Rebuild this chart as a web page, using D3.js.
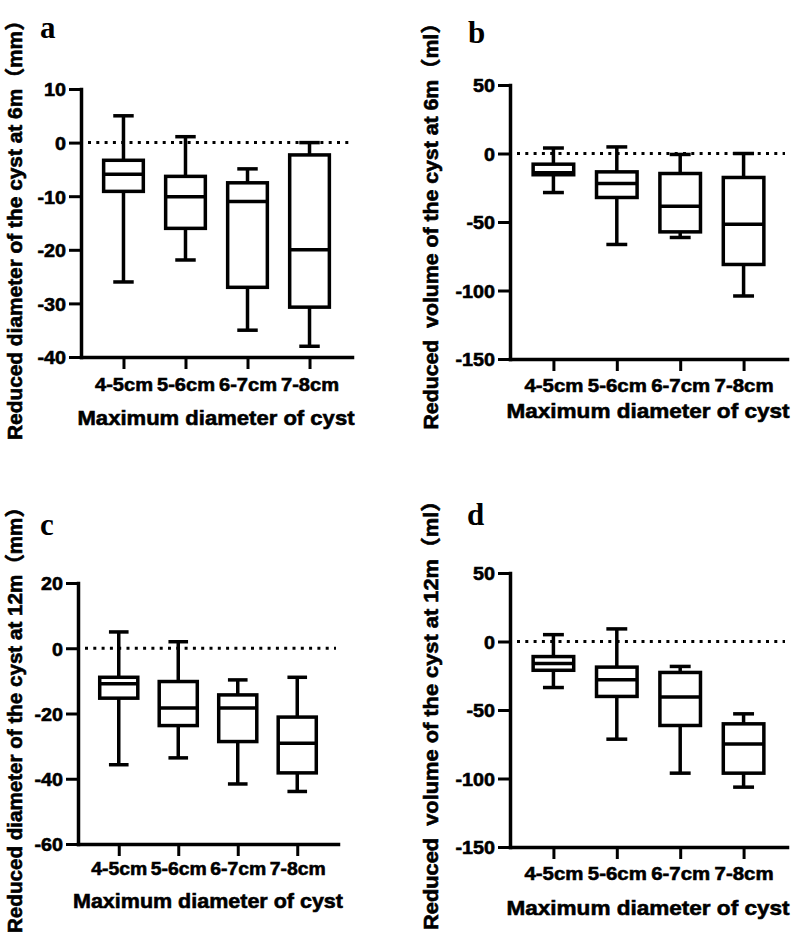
<!DOCTYPE html>
<html>
<head>
<meta charset="utf-8">
<script src="https://cdn.jsdelivr.net/npm/d3@7"></script>
<style>
  html, body { margin: 0; padding: 0; background: #fff; }
  svg { display: block; }
  text { font-family: "Liberation Sans", Arial, "Noto Sans CJK SC", sans-serif; font-weight: bold; fill: #000; }
</style>
</head>
<body>
<svg id="chart" width="800" height="935"></svg>
<script>
// ---------- DATA ----------
const categories = ["4-5cm", "5-6cm", "6-7cm", "7-8cm"];

// Panel a: reduced diameter at 6m (mm)
const aMax    = [5, 1.1, -4.9, 0];
const aQ3     = [-3.3, -6.3, -7.5, -2.3];
const aMedian = [-5.9, -10.1, -11, -20];
const aQ1     = [-9.1, -16, -27, -30.7];
const aMin    = [-26, -21.9, -35, -38];
const aTicks  = [10, 0, -10, -20, -30, -40];

// Panel b: reduced volume at 6m (ml)
const bMax    = [4, 4.8, -0.7, 0];
const bQ3     = [-7.8, -13.4, -14.6, -17.5];
const bMedian = [-14, -21.9, -38.5, -51.6];
const bQ1     = [-15.5, -32.1, -57.2, -81];
const bMin    = [-28.5, -66.4, -61.3, -104];
const bTicks  = [50, 0, -50, -100, -150];

// Panel c: reduced diameter at 12m (mm)
const cMax    = [5, 2, -9.7, -8.9];
const cQ3     = [-8.9, -10.2, -14.3, -21.1];
const cMedian = [-10.9, -18.3, -18.3, -29.1];
const cQ1     = [-15.3, -23.7, -28.6, -38.2];
const cMin    = [-35.7, -33.6, -41.6, -43.9];
const cTicks  = [20, 0, -20, -40, -60];

// Panel d: reduced volume at 12m (ml)
const dMax    = [5, 9.2, -18.2, -52.8];
const dQ3     = [-11, -18.7, -22.6, -60.1];
const dMedian = [-16, -28, -40.6, -74.9];
const dQ1     = [-21, -40.1, -61.3, -96.1];
const dMin    = [-33.6, -71.3, -96.1, -106.3];
const dTicks  = [50, 0, -50, -100, -150];

const panelLetters = ["a", "b", "c", "d"];
const yTitles = [
  "Reduced diameter of the cyst at 6m（mm）",
  "Reduced  volume of the cyst at 6m（ml）",
  "Reduced diameter of the cyst at 12m（mm）",
  "Reduced  volume of the cyst at 12m（ml）"
];
const xTitle = "Maximum diameter of cyst";

// ---------- LAYOUT ----------
const panels = [
  { letter: panelLetters[0], yTitle: yTitles[0], ticks: aTicks,
    stats: { max: aMax, q3: aQ3, med: aMedian, q1: aQ1, min: aMin },
    x0: 81, x1: 352, yTop: 89, yBot: 357, xtW: 58,
    lab: [40, 38], yl: { x: 22, cy: 225, len: 430 },
    tickBase: 34, xt: { cx: 216, y: 425, len: 277 } },
  { letter: panelLetters[1], yTitle: yTitles[1], ticks: bTicks,
    stats: { max: bMax, q3: bQ3, med: bMedian, q1: bQ1, min: bMin },
    x0: 510, x1: 787, yTop: 85, yBot: 359, xtW: 59,
    lab: [468, 43], yl: { x: 438, cy: 221, len: 417 },
    tickBase: 33, xt: { cx: 648, y: 418, len: 283 } },
  { letter: panelLetters[2], yTitle: yTitles[2], ticks: cTicks,
    stats: { max: cMax, q3: cQ3, med: cMedian, q1: cQ1, min: cMin },
    x0: 78, x1: 338, yTop: 583, yBot: 844, xtW: 56,
    lab: [40, 535], yl: { x: 22, cy: 715, len: 436 },
    tickBase: 31, xt: { cx: 208, y: 908, len: 270 } },
  { letter: panelLetters[3], yTitle: yTitles[3], ticks: dTicks,
    stats: { max: dMax, q3: dQ3, med: dMedian, q1: dQ1, min: dMin },
    x0: 510, x1: 787, yTop: 573, yBot: 847, xtW: 59,
    lab: [467, 525], yl: { x: 438, cy: 710, len: 440 },
    tickBase: 33, xt: { cx: 648, y: 915, len: 283 } }
];

const svg = d3.select("#chart");
const LW = 3.5;
const TS = 0.6; // text stroke for heavier weight

panels.forEach(p => {
  const g = svg.append("g");
  const x = d3.scalePoint().domain(categories).range([p.x0, p.x1]).padding(0.685);
  const y = d3.scaleLinear().domain([d3.min(p.ticks), d3.max(p.ticks)]).range([p.yBot, p.yTop]);
  const step = x.step();
  const boxW = step * 0.64;
  const capW = step * 0.33;

  // zero dotted line
  g.append("line")
    .attr("x1", p.x0 + 7).attr("x2", p.x1 - 2)
    .attr("y1", y(0)).attr("y2", y(0))
    .attr("stroke", "#000").attr("stroke-width", 3)
    .attr("stroke-dasharray", "3,5.3");

  const rows = categories.map((c, i) => ({
    c, max: p.stats.max[i], q3: p.stats.q3[i], med: p.stats.med[i],
    q1: p.stats.q1[i], min: p.stats.min[i]
  }));

  const bx = g.selectAll(".bx").data(rows).enter().append("g");
  bx.append("line")
    .attr("x1", d => x(d.c)).attr("x2", d => x(d.c))
    .attr("y1", d => y(d.max)).attr("y2", d => y(d.q3))
    .attr("stroke", "#000").attr("stroke-width", LW);
  bx.append("line")
    .attr("x1", d => x(d.c)).attr("x2", d => x(d.c))
    .attr("y1", d => y(d.q1)).attr("y2", d => y(d.min))
    .attr("stroke", "#000").attr("stroke-width", LW);
  bx.append("line")
    .attr("x1", d => x(d.c) - capW / 2).attr("x2", d => x(d.c) + capW / 2)
    .attr("y1", d => y(d.max)).attr("y2", d => y(d.max))
    .attr("stroke", "#000").attr("stroke-width", LW);
  bx.append("line")
    .attr("x1", d => x(d.c) - capW / 2).attr("x2", d => x(d.c) + capW / 2)
    .attr("y1", d => y(d.min)).attr("y2", d => y(d.min))
    .attr("stroke", "#000").attr("stroke-width", LW);
  bx.append("rect")
    .attr("x", d => x(d.c) - boxW / 2).attr("width", boxW)
    .attr("y", d => y(d.q3)).attr("height", d => y(d.q1) - y(d.q3))
    .attr("fill", "#fff").attr("stroke", "#000").attr("stroke-width", LW);
  bx.append("line")
    .attr("x1", d => x(d.c) - boxW / 2).attr("x2", d => x(d.c) + boxW / 2)
    .attr("y1", d => y(d.med)).attr("y2", d => y(d.med))
    .attr("stroke", "#000").attr("stroke-width", LW);

  // axes
  const yAxis = g.append("g").attr("transform", `translate(${p.x0},0)`)
    .call(d3.axisLeft(y).tickValues(p.ticks).tickSize(12).tickSizeOuter(0).tickPadding(3)
      .tickFormat(d => String(d)));
  const xAxis = g.append("g").attr("transform", `translate(0,${p.yBot})`)
    .call(d3.axisBottom(x).tickSize(12).tickSizeOuter(0));

  [yAxis, xAxis].forEach(ax => {
    ax.select(".domain").attr("stroke", "#000").attr("stroke-width", LW).attr("stroke-linecap", "square");
    ax.selectAll(".tick line").attr("stroke", "#000").attr("stroke-width", 3);
    ax.selectAll("text").attr("font-size", 19).attr("font-weight", "bold")
      .attr("font-family", "'Liberation Sans', Arial, sans-serif").attr("fill", "#000")
      .attr("stroke", "#000").attr("stroke-width", TS);
  });
  yAxis.selectAll(".tick text").attr("dy", "0.36em").each(function () {
    const len = this.getComputedTextLength();
    d3.select(this).attr("textLength", len * 1.04).attr("lengthAdjust", "spacingAndGlyphs");
  });
  xAxis.selectAll(".tick text").attr("y", p.tickBase).attr("dy", 0)
    .attr("textLength", p.xtW).attr("lengthAdjust", "spacingAndGlyphs");

  // panel letter
  g.append("text")
    .attr("x", p.lab[0]).attr("y", p.lab[1])
    .style("font-family", "'Liberation Serif', 'Times New Roman', serif")
    .style("font-weight", "bold")
    .attr("font-size", 31)
    .text(p.letter);

  // y title
  g.append("text")
    .attr("transform", `translate(${p.yl.x},${p.yl.cy}) rotate(-90)`)
    .attr("text-anchor", "middle")
    .attr("font-size", 20)
    .attr("stroke", "#000").attr("stroke-width", TS)
    .style("white-space", "pre")
    .attr("textLength", p.yl.len).attr("lengthAdjust", "spacingAndGlyphs")
    .text(p.yTitle);

  // x title
  g.append("text")
    .attr("x", p.xt.cx).attr("y", p.xt.y)
    .attr("text-anchor", "middle")
    .attr("font-size", 21)
    .attr("stroke", "#000").attr("stroke-width", TS)
    .attr("textLength", p.xt.len).attr("lengthAdjust", "spacingAndGlyphs")
    .text(xTitle);
});
</script>
</body>
</html>
